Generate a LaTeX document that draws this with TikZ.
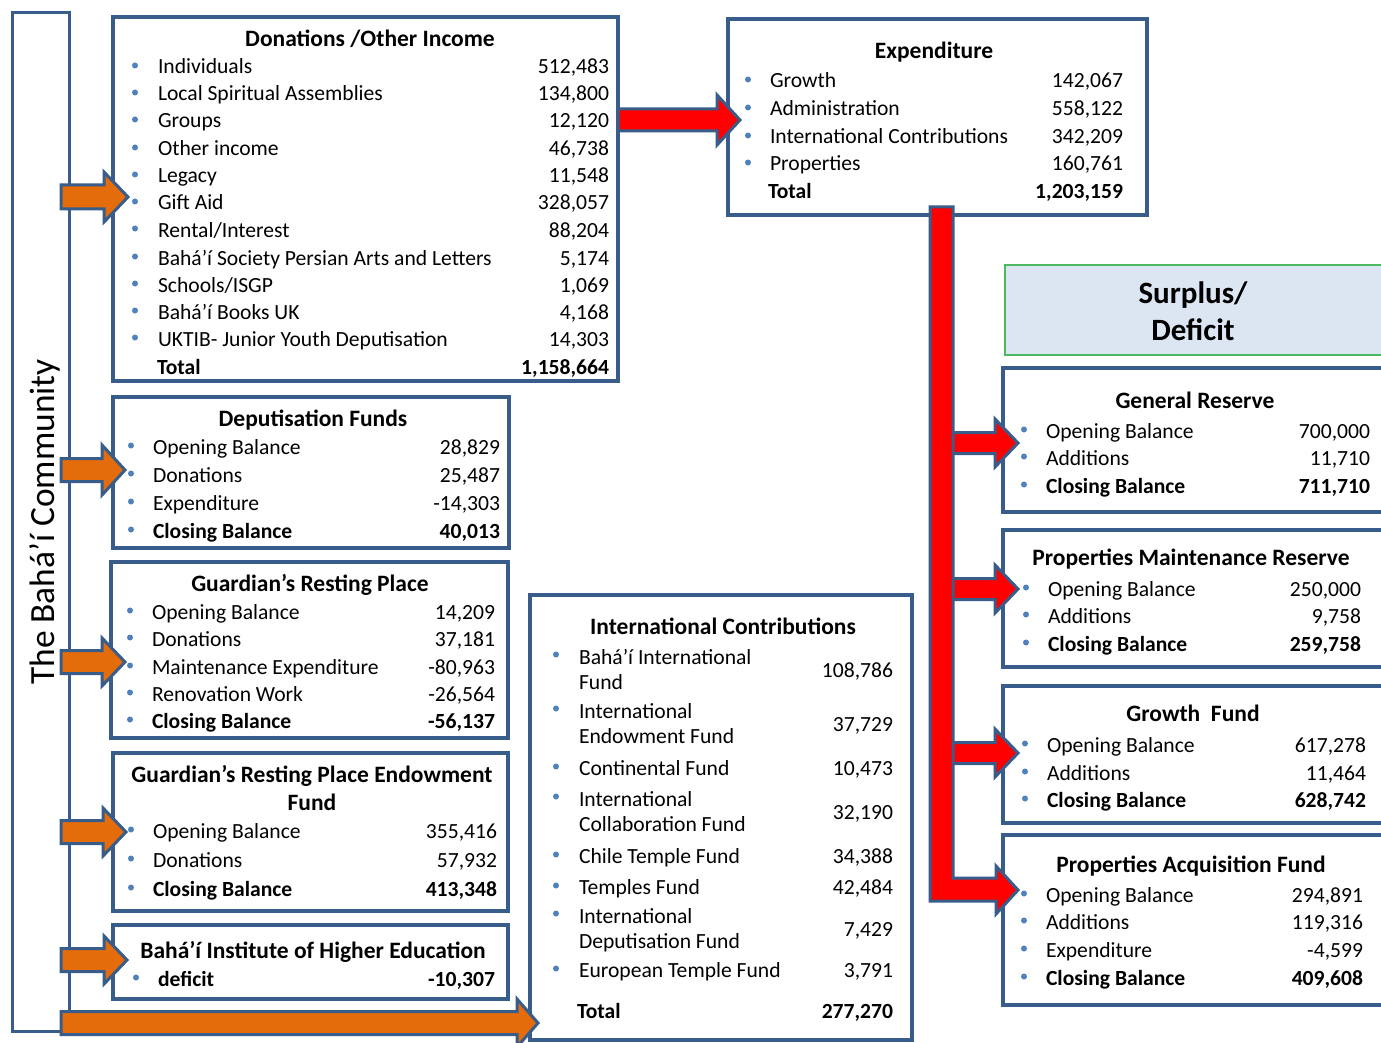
\documentclass[tikz,border=0pt]{standalone}
\usepackage{fontspec}
\setmainfont{Carlito}
\definecolor{bord}{HTML}{385D8A}
\definecolor{bulc}{HTML}{4F81BD}
\definecolor{orng}{HTML}{E46C0A}
\definecolor{sfill}{HTML}{DCE6F2}
\definecolor{sgrn}{HTML}{4CB860}
\tikzset{
  box/.style={draw=bord, line width=3.5pt, fill=white, inner sep=0pt, outer sep=0pt},
  sbox/.style={draw=sgrn, line width=2pt, fill=sfill, inner sep=0pt, outer sep=0pt},
  txt/.style={inner sep=0pt, outer sep=0pt, font=\fontsize{21.6}{25}\selectfont},
  ttl/.style={inner sep=0pt, outer sep=0pt, font=\fontsize{23.5}{27}\selectfont\bfseries},
  tot/.style={inner sep=0pt, outer sep=0pt, font=\fontsize{21.6}{25}\selectfont\bfseries},
  oarr/.style={draw=bord, line width=3pt, fill=orng, line join=miter},
  rarr/.style={draw=bord, line width=3pt, fill=red, line join=miter},
}
% box: name, x1, y1, x2, y2, style
\newcommand\mybox[6]{\node[#6, anchor=north west, minimum width=#4pt-#2pt, minimum height=#5pt-#3pt] (#1) at (#2,#3) {};}
% item: name, xbullet, xtext, xnum, y, label, number
\newcommand\itm[7]{%
  \fill[bulc] (#2,#5-0.5) circle (3);
  \node[txt, anchor=base west] (#1l) at (#3,#5+8) {#6};
  \node[txt, anchor=base east] (#1n) at (#4,#5+8) {#7};}
% two-line item: name, xbullet, xtext, xnum, y1, line1, line2, number
\newcommand\itmtwo[8]{%
  \fill[bulc] (#2,#5-1.5) circle (3);
  \node[txt, anchor=base west] (#1a) at (#3,#5+8) {#6};
  \node[txt, anchor=base west] (#1b) at (#3,#5+33.5) {#7};
  \node[txt, anchor=base east] (#1n) at (#4,#5+21) {#8};}
% title: name, xcenter, y, text
\newcommand\ttlat[4]{\node[ttl, anchor=base] (#1) at (#2,#3+8.5) {#4};}
% block arrow: style, x0, xtip, y, body half, head half, head length
\newcommand\harrow[7]{\draw[#1] (#2,#4-#5) -- (#3-#7,#4-#5) -- (#3-#7,#4-#6) -- (#3,#4) -- (#3-#7,#4+#6) -- (#3-#7,#4+#5) -- (#2,#4+#5) -- cycle;}
\begin{document}
\begin{tikzpicture}[x=1pt,y=-1pt]
\useasboundingbox (0,0) rectangle (1381,1043);
\clip (0,0) rectangle (1381,1043);
\fill[white] (0,0) rectangle (1381,1043);

% community
\node[draw=bord, line width=3pt, anchor=north west, minimum width=57pt, minimum height=1018pt, inner sep=0pt, outer sep=0pt] (comm) at (12,13) {};
\node[rotate=90, anchor=base, inner sep=0pt, font=\fontsize{35.4}{40}\selectfont] (commtxt) at (54,522) {The Bahá’í Community};

% Donations
\mybox{don}{113}{17}{618}{381}{box}
\ttlat{dont}{370}{38}{Donations /Other Income}
\itm{d1}{135}{158}{609}{66}{Individuals}{512,483}
\itm{d2}{135}{158}{609}{93}{Local Spiritual Assemblies}{134,800}
\itm{d3}{135}{158}{609}{120}{Groups}{12,120}
\itm{d4}{135}{158}{609}{148}{Other income}{46,738}
\itm{d5}{135}{158}{609}{175}{Legacy}{11,548}
\itm{d6}{135}{158}{609}{202}{Gift Aid}{328,057}
\itm{d7}{135}{158}{609}{229}{Rental/Interest}{88,204}
\itm{d8}{135}{158}{609}{257}{Bahá’í Society Persian Arts and Letters}{5,174}
\itm{d9}{135}{158}{609}{284}{Schools/ISGP}{1,069}
\itm{d10}{135}{158}{609}{311}{Bahá’í Books UK}{4,168}
\itm{d11}{135}{158}{609}{338}{UKTIB- Junior Youth Deputisation}{14,303}
\node[tot, anchor=base west] (dtl) at (157,374) {Total};
\node[tot, anchor=base east] (dtn) at (609,374) {1,158,664};

% Expenditure
\mybox{exp}{728}{19}{1147}{215}{box}
\ttlat{expt}{934}{50}{Expenditure}
\itm{e1}{748}{770}{1123}{80}{Growth}{142,067}
\itm{e2}{748}{770}{1123}{108}{Administration}{558,122}
\itm{e3}{748}{770}{1123}{136}{International Contributions}{342,209}
\itm{e4}{748}{770}{1123}{163}{Properties}{160,761}
\node[tot, anchor=base west] (etl) at (768,199) {Total};
\node[tot, anchor=base east] (etn) at (1123,199) {1,203,159};

% Surplus / Deficit
\mybox{sur}{1005}{265}{1395}{355}{sbox}
\node[inner sep=0pt, anchor=base, font=\fontsize{31}{36}\selectfont\bfseries] (sur1) at (1193,303) {Surplus/};
\node[inner sep=0pt, anchor=base, font=\fontsize{31}{36}\selectfont\bfseries] (sur2) at (1193,340) {Deficit};

% General Reserve
\mybox{gr}{1003}{368}{1395}{512}{box}
\ttlat{grt}{1195}{400}{General Reserve}
\itm{g1}{1024}{1046}{1370}{430}{Opening Balance}{700,000}
\itm{g2}{1024}{1046}{1370}{457}{Additions}{11,710}
\itm{g3}{1024}{1046}{1370}{485}{\bfseries Closing Balance}{\bfseries 711,710}

% Properties Maintenance Reserve
\mybox{pmr}{1003}{530}{1395}{667}{box}
\ttlat{pmrt}{1191}{557}{Properties Maintenance Reserve}
\itm{p1}{1026}{1048}{1361}{588}{Opening Balance}{250,000}
\itm{p2}{1026}{1048}{1361}{615}{Additions}{9,758}
\itm{p3}{1026}{1048}{1361}{643}{\bfseries Closing Balance}{\bfseries 259,758}

% Growth Fund
\mybox{gf}{1003}{686}{1395}{823}{box}
\ttlat{gft}{1193}{713}{Growth\ \ Fund}
\itm{f1}{1025}{1047}{1366}{744}{Opening Balance}{617,278}
\itm{f2}{1025}{1047}{1366}{772}{Additions}{11,464}
\itm{f3}{1025}{1047}{1366}{799}{\bfseries Closing Balance}{\bfseries 628,742}

% Properties Acquisition Fund
\mybox{paf}{1003}{835}{1395}{1005}{box}
\ttlat{paft}{1191}{864}{Properties Acquisition Fund}
\itm{a1}{1024}{1046}{1363}{894}{Opening Balance}{294,891}
\itm{a2}{1024}{1046}{1363}{921}{Additions}{119,316}
\itm{a3}{1024}{1046}{1363}{949}{Expenditure}{-4,599}
\itm{a4}{1024}{1046}{1363}{977}{\bfseries Closing Balance}{\bfseries 409,608}

% Deputisation Funds
\mybox{dep}{113}{397}{509}{548}{box}
\ttlat{dept}{313}{418}{Deputisation Funds}
\itm{q1}{131}{153}{500}{446}{Opening Balance}{28,829}
\itm{q2}{131}{153}{500}{474}{Donations}{25,487}
\itm{q3}{131}{153}{500}{502}{Expenditure}{-14,303}
\itm{q4}{131}{153}{500}{530}{\bfseries Closing Balance}{\bfseries 40,013}

% Guardian's Resting Place
\mybox{grp}{111}{562}{508}{738}{box}
\ttlat{grpt}{310}{583}{Guardian’s Resting Place}
\itm{r1}{130}{152}{495}{611}{Opening Balance}{14,209}
\itm{r2}{130}{152}{495}{638}{Donations}{37,181}
\itm{r3}{130}{152}{495}{666}{Maintenance Expenditure}{-80,963}
\itm{r4}{130}{152}{495}{693}{Renovation Work}{-26,564}
\itm{r5}{130}{152}{495}{720}{\bfseries Closing Balance}{\bfseries -56,137}

% Guardian's Resting Place Endowment Fund
\mybox{grpe}{113}{753}{508}{911}{box}
\ttlat{grpet}{312}{774}{Guardian’s Resting Place Endowment}
\ttlat{grpet2}{312}{802}{Fund}
\itm{s1}{131}{153}{497}{830}{Opening Balance}{355,416}
\itm{s2}{131}{153}{497}{859}{Donations}{57,932}
\itm{s3}{131}{153}{497}{888}{\bfseries Closing Balance}{\bfseries 413,348}

% BIHE
\mybox{bihe}{113}{925}{508}{999}{box}
\ttlat{bihet}{313}{950}{Bahá’í Institute of Higher Education}
\itm{b1}{136}{158}{495}{978}{\bfseries deficit}{\bfseries -10,307}

% International Contributions
\mybox{ic}{530}{595}{912}{1040}{box}
\ttlat{ict}{723}{626}{International Contributions}
\itmtwo{i1}{556}{579}{893}{656}{Bahá’í International}{Fund}{108,786}
\itmtwo{i2}{556}{579}{893}{710}{International}{Endowment Fund}{37,729}
\itm{i3}{556}{579}{893}{767}{Continental Fund}{10,473}
\itmtwo{i4}{556}{579}{893}{798}{International}{Collaboration Fund}{32,190}
\itm{i5}{556}{579}{893}{855}{Chile Temple Fund}{34,388}
\itm{i6}{556}{579}{893}{886}{Temples Fund}{42,484}
\itmtwo{i7}{556}{579}{893}{915}{International}{Deputisation Fund}{7,429}
\itm{i8}{556}{579}{893}{969}{European Temple Fund}{3,791}
\node[tot, anchor=base west] (itl) at (577,1018) {Total};
\node[tot, anchor=base east] (itn) at (893,1018) {277,270};

% orange arrows from the community
\harrow{oarr}{61}{128}{197}{12}{25}{24}
\harrow{oarr}{61}{125}{470}{11.5}{25}{23}
\harrow{oarr}{61}{125}{662}{11.5}{24}{23}
\harrow{oarr}{61}{126}{832}{11.5}{24}{23}
\harrow{oarr}{61}{127}{960}{11.5}{24}{23}
\harrow{oarr}{61}{538}{1023}{11.5}{24}{21}

% red arrows
\harrow{rarr}{618}{740}{120}{11}{25}{23}
\harrow{rarr}{950}{1018}{443}{10.5}{24}{23}
\harrow{rarr}{950}{1018}{589}{10.5}{24}{23}
\harrow{rarr}{950}{1018}{753}{10.5}{24}{23}
\draw[rarr] (930,207) -- (953,207) -- (953,878) -- (996,878) -- (996,866) -- (1018,890) -- (996,914) -- (996,901) -- (930,901) -- cycle;
\end{tikzpicture}
\end{document}
